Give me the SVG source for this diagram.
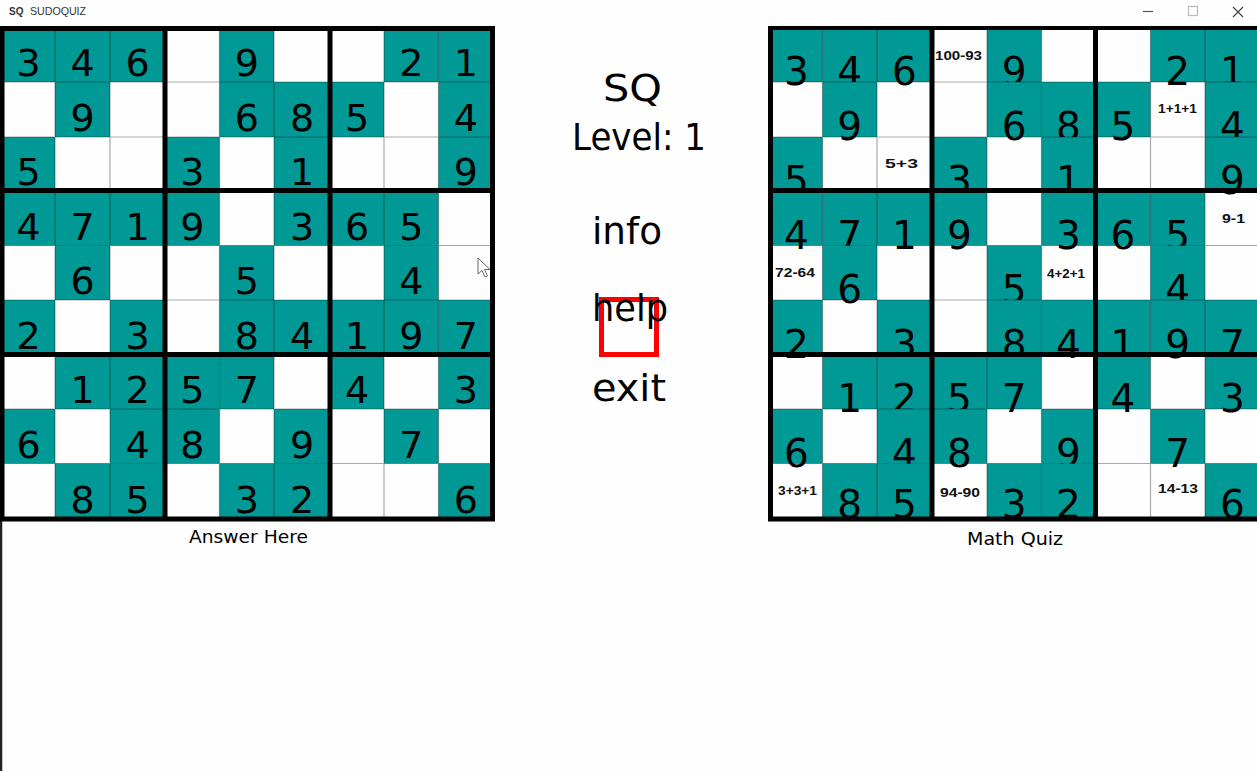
<svg xmlns="http://www.w3.org/2000/svg" width="1257" height="771" viewBox="0 0 1257 771">
<style>
.t{fill:#009995}
.d{font-family:"DejaVu Sans",sans-serif;font-size:38px;text-anchor:middle;fill:#000}
.dq{font-family:"DejaVu Sans",sans-serif;font-size:39px;text-anchor:middle;fill:#000}
.m{font-family:"Liberation Sans",sans-serif;font-weight:bold;font-size:12px;text-anchor:middle;fill:#111}
.thin{stroke:#000;stroke-opacity:.33;stroke-width:1.2;fill:none}
.thick{stroke:#000;stroke-width:5;fill:none}
.menu{font-family:"DejaVu Sans",sans-serif;font-size:38px;fill:#000}
.lbl{font-family:"DejaVu Sans",sans-serif;font-size:18px;fill:#000}
</style>
<rect width="1257" height="771" fill="#fefefe"/>
<g id="title-bar">
<text x="9" y="15" font-family="Liberation Sans,sans-serif" font-size="10" font-weight="bold" fill="#333">SQ</text>
<text x="30" y="15" font-family="Liberation Sans,sans-serif" font-size="11" fill="#333" textLength="56" lengthAdjust="spacingAndGlyphs">SUDOQUIZ</text>
<path d="M1143 11.5H1153" stroke="#555" stroke-width="1.2"/>
<rect x="1188.5" y="6.5" width="9" height="9" fill="none" stroke="#bbb" stroke-width="1.2"/>
<path d="M1233 7L1243 17M1243 7L1233 17" stroke="#444" stroke-width="1.2"/>
<path d="M1 26V771" stroke="#222" stroke-width="2.5"/>
</g>
<g id="answer-grid">
<g id="answer-cells">
<rect class="t" x="2" y="28" width="53" height="54"/><rect class="t" x="55" y="28" width="55" height="54"/><rect class="t" x="110" y="28" width="55" height="54"/><rect class="t" x="219.5" y="28" width="54.5" height="54"/><rect class="t" x="384" y="28" width="54.5" height="54"/><rect class="t" x="438.5" y="28" width="54.5" height="54"/>
<rect class="t" x="55" y="82" width="55" height="55"/><rect class="t" x="219.5" y="82" width="54.5" height="55"/><rect class="t" x="274" y="82" width="56" height="55"/><rect class="t" x="330" y="82" width="54" height="55"/><rect class="t" x="438.5" y="82" width="54.5" height="55"/>
<rect class="t" x="2" y="137" width="53" height="53.5"/><rect class="t" x="165" y="137" width="54.5" height="53.5"/><rect class="t" x="274" y="137" width="56" height="53.5"/><rect class="t" x="438.5" y="137" width="54.5" height="53.5"/>
<rect class="t" x="2" y="190.5" width="53" height="55"/><rect class="t" x="55" y="190.5" width="55" height="55"/><rect class="t" x="110" y="190.5" width="55" height="55"/><rect class="t" x="165" y="190.5" width="54.5" height="55"/><rect class="t" x="274" y="190.5" width="56" height="55"/><rect class="t" x="330" y="190.5" width="54" height="55"/><rect class="t" x="384" y="190.5" width="54.5" height="55"/>
<rect class="t" x="55" y="245.5" width="55" height="54.5"/><rect class="t" x="219.5" y="245.5" width="54.5" height="54.5"/><rect class="t" x="384" y="245.5" width="54.5" height="54.5"/>
<rect class="t" x="2" y="300" width="53" height="54.5"/><rect class="t" x="110" y="300" width="55" height="54.5"/><rect class="t" x="219.5" y="300" width="54.5" height="54.5"/><rect class="t" x="274" y="300" width="56" height="54.5"/><rect class="t" x="330" y="300" width="54" height="54.5"/><rect class="t" x="384" y="300" width="54.5" height="54.5"/><rect class="t" x="438.5" y="300" width="54.5" height="54.5"/>
<rect class="t" x="55" y="354.5" width="55" height="54.5"/><rect class="t" x="110" y="354.5" width="55" height="54.5"/><rect class="t" x="165" y="354.5" width="54.5" height="54.5"/><rect class="t" x="219.5" y="354.5" width="54.5" height="54.5"/><rect class="t" x="330" y="354.5" width="54" height="54.5"/><rect class="t" x="438.5" y="354.5" width="54.5" height="54.5"/>
<rect class="t" x="2" y="409" width="53" height="54.5"/><rect class="t" x="110" y="409" width="55" height="54.5"/><rect class="t" x="165" y="409" width="54.5" height="54.5"/><rect class="t" x="274" y="409" width="56" height="54.5"/><rect class="t" x="384" y="409" width="54.5" height="54.5"/>
<rect class="t" x="55" y="463.5" width="55" height="55.5"/><rect class="t" x="110" y="463.5" width="55" height="55.5"/><rect class="t" x="219.5" y="463.5" width="54.5" height="55.5"/><rect class="t" x="274" y="463.5" width="56" height="55.5"/><rect class="t" x="438.5" y="463.5" width="54.5" height="55.5"/>
</g>
<g id="answer-digits">
<text class="d" y="76"><tspan x="28.5">3</tspan><tspan x="82.5">4</tspan><tspan x="137.5">6</tspan><tspan x="246.75">9</tspan><tspan x="411.25">2</tspan><tspan x="465.75">1</tspan></text>
<text class="d" y="131"><tspan x="82.5">9</tspan><tspan x="246.75">6</tspan><tspan x="302">8</tspan><tspan x="357">5</tspan><tspan x="465.75">4</tspan></text>
<text class="d" y="184.5"><tspan x="28.5">5</tspan><tspan x="192.25">3</tspan><tspan x="302">1</tspan><tspan x="465.75">9</tspan></text>
<text class="d" y="239.5"><tspan x="28.5">4</tspan><tspan x="82.5">7</tspan><tspan x="137.5">1</tspan><tspan x="192.25">9</tspan><tspan x="302">3</tspan><tspan x="357">6</tspan><tspan x="411.25">5</tspan></text>
<text class="d" y="294"><tspan x="82.5">6</tspan><tspan x="246.75">5</tspan><tspan x="411.25">4</tspan></text>
<text class="d" y="348.5"><tspan x="28.5">2</tspan><tspan x="137.5">3</tspan><tspan x="246.75">8</tspan><tspan x="302">4</tspan><tspan x="357">1</tspan><tspan x="411.25">9</tspan><tspan x="465.75">7</tspan></text>
<text class="d" y="403"><tspan x="82.5">1</tspan><tspan x="137.5">2</tspan><tspan x="192.25">5</tspan><tspan x="246.75">7</tspan><tspan x="357">4</tspan><tspan x="465.75">3</tspan></text>
<text class="d" y="457.5"><tspan x="28.5">6</tspan><tspan x="137.5">4</tspan><tspan x="192.25">8</tspan><tspan x="302">9</tspan><tspan x="411.25">7</tspan></text>
<text class="d" y="513"><tspan x="82.5">8</tspan><tspan x="137.5">5</tspan><tspan x="246.75">3</tspan><tspan x="302">2</tspan><tspan x="465.75">6</tspan></text>
</g>
<path class="thin" d="M55 28V519M110 28V519M219.5 28V519M274 28V519M384 28V519M438.5 28V519M2 82H493M2 137H493M2 245.5H493M2 300H493M2 409H493M2 463.5H493"/>
<path class="thick" d="M2 26V521.5M165 26V521.5M330 26V521.5M492.5 26V521.5M0 28.5H495M0 190.5H495M0 354.5H495M0 519H495"/>
<path id="cursor" d="M478 258V274L482 270.5L485 277L487.5 276L484.5 269.5H490Z" fill="#fff" stroke="#666" stroke-width="1"/>
</g>
<g id="quiz-grid">
<g id="quiz-row1">
<rect class="t" x="770.5" y="28" width="52" height="54"/><rect class="t" x="822.5" y="28" width="54.5" height="54"/><rect class="t" x="877" y="28" width="55" height="54"/><rect class="t" x="987" y="28" width="54.5" height="54"/><rect class="t" x="1150.5" y="28" width="54.5" height="54"/><rect class="t" x="1205" y="28" width="55" height="54"/>
<text class="dq" y="85"><tspan x="796.5">3</tspan><tspan x="849.75">4</tspan><tspan x="904.5">6</tspan><tspan x="1014.25">9</tspan><tspan x="1177.75">2</tspan><tspan x="1232.5">1</tspan></text>
<text class="m" x="958.5" y="60" textLength="47" lengthAdjust="spacingAndGlyphs">100-93</text>
</g>
<g id="quiz-row2">
<rect class="t" x="822.5" y="82" width="54.5" height="55"/><rect class="t" x="987" y="82" width="54.5" height="55"/><rect class="t" x="1041.5" y="82" width="54" height="55"/><rect class="t" x="1095.5" y="82" width="55" height="55"/><rect class="t" x="1205" y="82" width="55" height="55"/>
<text class="dq" y="140"><tspan x="849.75">9</tspan><tspan x="1014.25">6</tspan><tspan x="1068.5">8</tspan><tspan x="1123">5</tspan><tspan x="1232.5">4</tspan></text>
<text class="m" x="1177.5" y="113" font-size="11" textLength="39" lengthAdjust="spacingAndGlyphs">1+1+1</text>
</g>
<g id="quiz-row3">
<rect class="t" x="770.5" y="137" width="52" height="53.5"/><rect class="t" x="932" y="137" width="55" height="53.5"/><rect class="t" x="1041.5" y="137" width="54" height="53.5"/><rect class="t" x="1205" y="137" width="55" height="53.5"/>
<text class="dq" y="193.5"><tspan x="796.5">5</tspan><tspan x="959.5">3</tspan><tspan x="1068.5">1</tspan><tspan x="1232.5">9</tspan></text>
<text class="m" x="901.5" y="168" font-size="16" textLength="33" lengthAdjust="spacingAndGlyphs">5+3</text>
</g>
<g id="quiz-row4">
<rect class="t" x="770.5" y="190.5" width="52" height="55"/><rect class="t" x="822.5" y="190.5" width="54.5" height="55"/><rect class="t" x="877" y="190.5" width="55" height="55"/><rect class="t" x="932" y="190.5" width="55" height="55"/><rect class="t" x="1041.5" y="190.5" width="54" height="55"/><rect class="t" x="1095.5" y="190.5" width="55" height="55"/><rect class="t" x="1150.5" y="190.5" width="54.5" height="55"/>
<text class="dq" y="248.5"><tspan x="796.5">4</tspan><tspan x="849.75">7</tspan><tspan x="904.5">1</tspan><tspan x="959.5">9</tspan><tspan x="1068.5">3</tspan><tspan x="1123">6</tspan><tspan x="1177.75">5</tspan></text>
<text class="m" x="1233.5" y="223" textLength="23" lengthAdjust="spacingAndGlyphs">9-1</text>
</g>
<g id="quiz-row5">
<rect class="t" x="822.5" y="245.5" width="54.5" height="54.5"/><rect class="t" x="987" y="245.5" width="54.5" height="54.5"/><rect class="t" x="1150.5" y="245.5" width="54.5" height="54.5"/>
<text class="dq" y="303"><tspan x="849.75">6</tspan><tspan x="1014.25">5</tspan><tspan x="1177.75">4</tspan></text>
<text class="m" x="795" y="277" textLength="40" lengthAdjust="spacingAndGlyphs">72-64</text>
<text class="m" x="1066" y="278" textLength="38" lengthAdjust="spacingAndGlyphs">4+2+1</text>
</g>
<g id="quiz-row6">
<rect class="t" x="770.5" y="300" width="52" height="54.5"/><rect class="t" x="877" y="300" width="55" height="54.5"/><rect class="t" x="987" y="300" width="54.5" height="54.5"/><rect class="t" x="1041.5" y="300" width="54" height="54.5"/><rect class="t" x="1095.5" y="300" width="55" height="54.5"/><rect class="t" x="1150.5" y="300" width="54.5" height="54.5"/><rect class="t" x="1205" y="300" width="55" height="54.5"/>
<text class="dq" y="357.5"><tspan x="796.5">2</tspan><tspan x="904.5">3</tspan><tspan x="1014.25">8</tspan><tspan x="1068.5">4</tspan><tspan x="1123">1</tspan><tspan x="1177.75">9</tspan><tspan x="1232.5">7</tspan></text>
</g>
<g id="quiz-row7">
<rect class="t" x="822.5" y="354.5" width="54.5" height="54.5"/><rect class="t" x="877" y="354.5" width="55" height="54.5"/><rect class="t" x="932" y="354.5" width="55" height="54.5"/><rect class="t" x="987" y="354.5" width="54.5" height="54.5"/><rect class="t" x="1095.5" y="354.5" width="55" height="54.5"/><rect class="t" x="1205" y="354.5" width="55" height="54.5"/>
<text class="dq" y="412"><tspan x="849.75">1</tspan><tspan x="904.5">2</tspan><tspan x="959.5">5</tspan><tspan x="1014.25">7</tspan><tspan x="1123">4</tspan><tspan x="1232.5">3</tspan></text>
</g>
<g id="quiz-row8">
<rect class="t" x="770.5" y="409" width="52" height="54.5"/><rect class="t" x="877" y="409" width="55" height="54.5"/><rect class="t" x="932" y="409" width="55" height="54.5"/><rect class="t" x="1041.5" y="409" width="54" height="54.5"/><rect class="t" x="1150.5" y="409" width="54.5" height="54.5"/>
<text class="dq" y="466.5"><tspan x="796.5">6</tspan><tspan x="904.5">4</tspan><tspan x="959.5">8</tspan><tspan x="1068.5">9</tspan><tspan x="1177.75">7</tspan></text>
</g>
<g id="quiz-row9">
<rect class="t" x="822.5" y="463.5" width="54.5" height="55.5"/><rect class="t" x="877" y="463.5" width="55" height="55.5"/><rect class="t" x="987" y="463.5" width="54.5" height="55.5"/><rect class="t" x="1041.5" y="463.5" width="54" height="55.5"/><rect class="t" x="1205" y="463.5" width="55" height="55.5"/>
<text class="dq" y="518"><tspan x="849.75">8</tspan><tspan x="904.5">5</tspan><tspan x="1014.25">3</tspan><tspan x="1068.5">2</tspan><tspan x="1232.5">6</tspan></text>
<text class="m" x="797.5" y="495" textLength="39" lengthAdjust="spacingAndGlyphs">3+3+1</text>
<text class="m" x="960" y="497" textLength="40" lengthAdjust="spacingAndGlyphs">94-90</text>
<text class="m" x="1178" y="493" textLength="40" lengthAdjust="spacingAndGlyphs">14-13</text>
</g>
<path class="thin" d="M822.5 28V519M877 28V519M987 28V519M1041.5 28V519M1150.5 28V519M1205 28V519M770.5 82H1257M770.5 137H1257M770.5 245.5H1257M770.5 300H1257M770.5 409H1257M770.5 463.5H1257"/>
<path class="thick" d="M770.5 26V521.5M932 26V521.5M1095.5 26V521.5M768 190.5H1257M768 354.5H1257M768 519H1257"/>
<path d="M768 28H1257" stroke="#000" stroke-width="4"/>
</g>
<g id="menu">
<text class="menu" x="603" y="101" textLength="59" lengthAdjust="spacingAndGlyphs">SQ</text>
<text class="menu" x="572" y="150" font-size="35" textLength="134" lengthAdjust="spacingAndGlyphs">Level: 1</text>
<g id="btn-info"><text class="menu" x="592" y="244" textLength="70" lengthAdjust="spacingAndGlyphs">info</text></g>
<g id="btn-help"><rect x="601.5" y="299.5" width="55" height="55" fill="none" stroke="#ff0000" stroke-width="5"/>
<text class="menu" x="592" y="321" textLength="76" lengthAdjust="spacingAndGlyphs">help</text></g>
<g id="btn-exit"><text class="menu" x="592" y="401" textLength="74" lengthAdjust="spacingAndGlyphs">exit</text></g>
</g>
<g id="labels">
<text class="lbl" x="189" y="543" textLength="119" lengthAdjust="spacingAndGlyphs">Answer Here</text>
<text class="lbl" x="967" y="544.5" font-size="17.5" textLength="96" lengthAdjust="spacingAndGlyphs">Math Quiz</text>
</g>
</svg>
